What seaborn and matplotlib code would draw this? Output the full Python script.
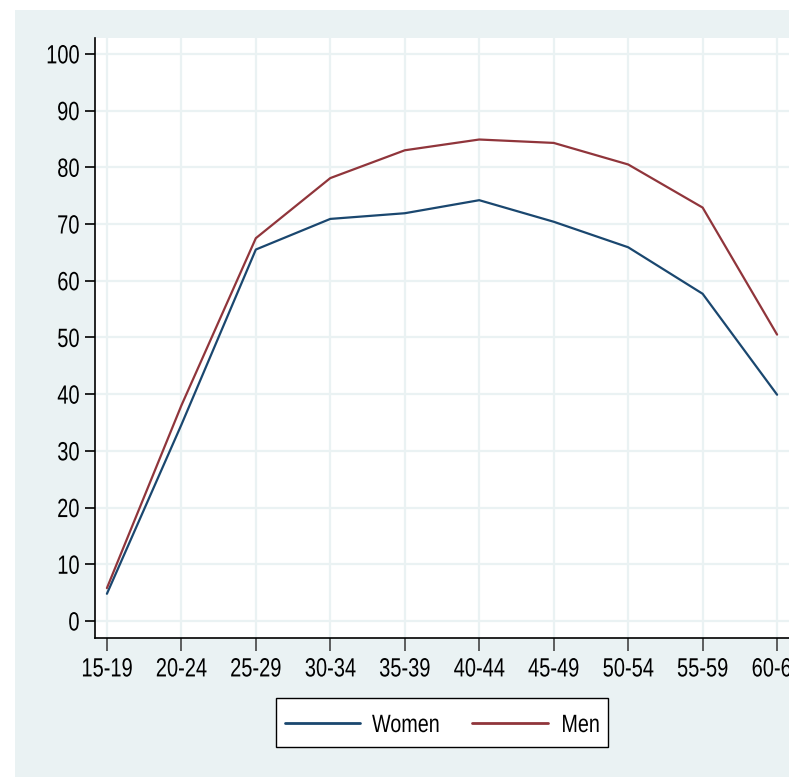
import matplotlib
matplotlib.use("Agg")
import matplotlib.pyplot as plt
from matplotlib.patches import Rectangle
from matplotlib.lines import Line2D
from matplotlib.patheffects import AbstractPathEffect
from matplotlib.transforms import Affine2D
import seaborn as sns
import pandas as pd

age_groups = ["15-19", "20-24", "25-29", "30-34", "35-39",
              "40-44", "45-49", "50-54", "55-59", "60-64"]
women = [4.8, 34.6, 65.5, 70.9, 71.9, 74.2, 70.4, 65.9, 57.7, 39.9]
men = [5.8, 38.0, 67.5, 78.1, 83.0, 84.9, 84.3, 80.5, 72.9, 50.5]
y_ticks = [0, 10, 20, 30, 40, 50, 60, 70, 80, 90, 100]
series_names = ["Women", "Men"]
series_colors = {"Women": "#1A476F", "Men": "#90353B"}

df = pd.DataFrame({
    "age": age_groups * 2,
    "rate": women + men,
    "sex": ["Women"] * len(women) + ["Men"] * len(men),
})


class Condensed(AbstractPathEffect):
    """Narrow the glyphs horizontally about a chosen anchor of the text."""

    def __init__(self, sx=0.76, anchor="center"):
        super().__init__()
        self.sx = sx
        self.anchor = anchor

    def draw_path(self, renderer, gc, tpath, affine, rgbFace=None):
        ext = tpath.get_extents()
        if self.anchor == "right":
            a = ext.x1
        elif self.anchor == "left":
            a = ext.x0
        else:
            a = 0.5 * (ext.x0 + ext.x1)
        pre = Affine2D().translate(-a, 0).scale(self.sx, 1).translate(a, 0)
        renderer.draw_path(gc, tpath, pre + affine, rgbFace)


sns.set_theme(style="white")
plt.rcParams["font.family"] = ["Liberation Sans", "DejaVu Sans"]

W, H = 789, 777
fig = plt.figure(figsize=(W / 100, H / 100), dpi=100, facecolor="white")
bg = "#EAF2F3"
fig.patches.append(Rectangle((15 / W, 0), 1 - 15 / W, (H - 10) / H,
                             transform=fig.transFigure, facecolor=bg,
                             edgecolor="none", zorder=-10))

ax = fig.add_axes([95 / W, (H - 638) / H, (789 - 95) / W, (638 - 38) / H])
ax.set_zorder(1)
ax.set_facecolor("white")

sns.lineplot(data=df, x="age", y="rate", hue="sex", ax=ax,
             palette=series_colors, linewidth=1.6, legend=False,
             sort=False, zorder=3)

ax.set_xlim(-0.16, 9.16)
ax.set_ylim(-3, 102.8)
ax.set_yticks(y_ticks)
ax.set_yticklabels([str(v) for v in y_ticks])
ax.set_xticks(range(len(age_groups)))
ax.set_xticklabels(age_groups)
ax.set_xlabel("")
ax.set_ylabel("")

ax.grid(True, color=bg, linewidth=1.6, zorder=0)
ax.set_axisbelow(True)
for side in ["top", "right"]:
    ax.spines[side].set_visible(False)
for side in ["left", "bottom"]:
    ax.spines[side].set_color("black")
    ax.spines[side].set_linewidth(1.2)

ax.tick_params(axis="y", direction="out", length=7, width=1.2, color="black",
               labelsize=19, pad=4, left=True)
ax.tick_params(axis="x", direction="out", length=9, width=1.2, color="#444444",
               labelsize=19, pad=5, bottom=True)
for lab in ax.get_yticklabels():
    lab.set_color("black")
    lab.set_path_effects([Condensed(0.76, "right")])
for lab in ax.get_xticklabels():
    lab.set_color("black")
    lab.set_path_effects([Condensed(0.76, "center")])

# legend box below the plot
def fx(px):
    return px / W


def fy(py):
    return 1 - py / H


fig.patches.append(Rectangle((fx(276), fy(747)), fx(608) - fx(276), fy(698) - fy(747),
                             transform=fig.transFigure, facecolor="white",
                             edgecolor="black", linewidth=1.0, zorder=2))
key_spans = [(285, 360, 372), (472, 548, 561)]
for name, (x0, x1, xt) in zip(series_names, key_spans):
    fig.lines.append(Line2D([fx(x0), fx(x1)], [fy(722.5), fy(722.5)],
                            transform=fig.transFigure, color=series_colors[name],
                            linewidth=2, zorder=3))
    t = fig.text(fx(xt), fy(722.5), name, ha="left", va="center_baseline",
                 fontsize=18, color="black", zorder=3)
    t.set_path_effects([Condensed(0.79, "left")])

fig.savefig("out.png", dpi=100, facecolor="white")
